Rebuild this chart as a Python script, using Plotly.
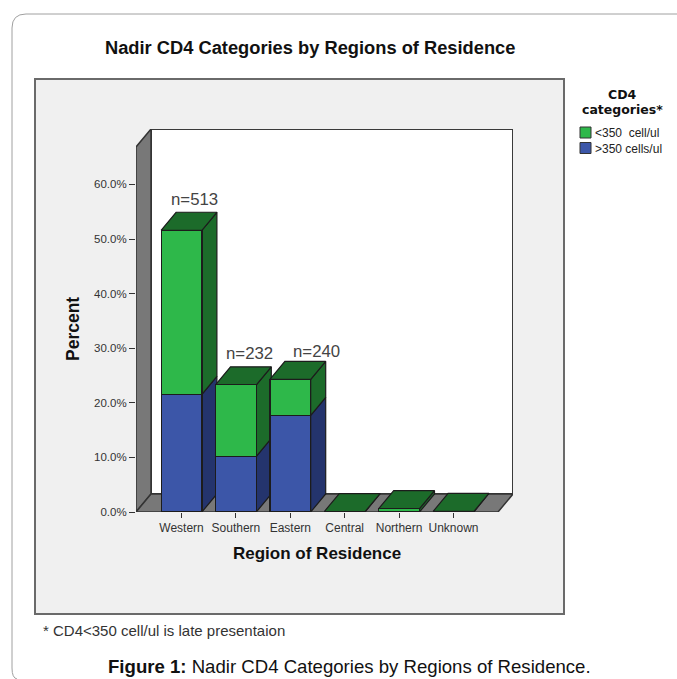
import plotly.graph_objects as go

# ---- data ----
regions = ["Western", "Southern", "Eastern", "Central", "Northern", "Unknown"]
over_350 = [21.55, 10.2, 17.7, 0.0, 0.0, 0.0]
under_350 = [30.05, 13.1, 6.6, 0.08, 0.6, 0.1]
series_names = ["&lt;350 \u00a0cell/ul", "&gt;350 cells/ul"]
y_ticks = [0, 10, 20, 30, 40, 50, 60]
n_labels = ["n=513", "n=232", "n=240"]
n_shift_x = [12.5, 13.5, 26]
n_shift_y = [31, 31, 28]

W, H = 677, 679
DEPTH_X, DEPTH_Y = 15, 18                 # pixels of the pseudo-3D depth
X0, X1, Y0, Y1 = 136, 498, 512, 147       # front plane, pixels
CAT_PX, TEN_PX = 54.4, 54.6
x_min = (X0 - 181.5) / CAT_PX
x_max = (X1 - 181.5) / CAT_PX
y_max = (Y0 - Y1) / (TEN_PX / 10)
dx = DEPTH_X / CAT_PX
dy = DEPTH_Y / (TEN_PX / 10)
half = 0.375

GREEN, GREEN_D = "#2eb84a", "#1c6b2a"
BLUE, BLUE_D = "#3c56a8", "#24346d"
WALL, EDGE = "#787878", "#1c1c1c"


def px(x):
    return x / W


def py(y):
    return 1 - y / H


fig = go.Figure()


def poly(xs, ys, fill, edge=EDGE, width=1.2):
    fig.add_trace(go.Scatter(
        x=xs + xs[:1], y=ys + ys[:1], mode="lines", fill="toself", fillcolor=fill,
        line=dict(color=edge, width=width), cliponaxis=False,
        hoverinfo="skip", showlegend=False))


# walls and floor
poly([x_min + dx, x_max + dx, x_max + dx, x_min + dx], [dy, dy, y_max + dy, y_max + dy], "white", "#3a3a3a", 2)
poly([x_min, x_min + dx, x_min + dx, x_min], [0, dy, y_max + dy, y_max], WALL, "#333333", 1.5)
poly([x_min, x_max, x_max + dx, x_min + dx], [0, 0, dy, dy], WALL, "#333333", 1.5)

# side and top faces
for i in range(len(regions)):
    r = i + half
    lo, tot = over_350[i], over_350[i] + under_350[i]
    if lo > 0:
        poly([r, r + dx, r + dx, r], [0, dy, lo + dy, lo], BLUE_D)
    poly([r, r + dx, r + dx, r], [lo, lo + dy, tot + dy, tot], GREEN_D)
    poly([i - half, r, r + dx, i - half + dx], [tot, tot, tot + dy, tot + dy], GREEN_D)

# front faces on an overlaid subplot so that they cover the neighbouring side faces
positions = list(range(len(regions)))
for vals, color, name in [(over_350, BLUE, series_names[1]), (under_350, GREEN, series_names[0])]:
    fig.add_trace(go.Bar(
        x=positions, y=vals, width=0.75, name=name, xaxis="x2", yaxis="y2",
        marker=dict(color=color, line=dict(color=EDGE, width=1.2)), showlegend=False))

shapes = []
# card outline
card = (f"M {px(17)},{py(679)} Q {px(12)},{py(678)} {px(12)},{py(668)} "
        f"L {px(12)},{py(28)} Q {px(12)},{py(14)} {px(26)},{py(14)} L {px(677)},{py(14)}")
shapes.append(dict(type="path", path=card, xref="paper", yref="paper",
                   line=dict(color="#a0a0a0", width=1), layer="below"))
# chart panel
shapes.append(dict(type="rect", xref="paper", yref="paper", x0=px(35), x1=px(564), y0=py(614), y1=py(79),
                   fillcolor="#f0f0f0", line=dict(color="#6a6a6a", width=2), layer="below"))
# legend keys
for top, color in [(127, GREEN), (142.5, BLUE)]:
    shapes.append(dict(type="rect", xref="paper", yref="paper", x0=px(580), x1=px(591),
                       y0=py(top + 11), y1=py(top), fillcolor=color,
                       line=dict(color="#333333", width=1)))

ann = []


def text(x, y, s, size, anchor="center", color="#222222", family="Liberation Sans", angle=0):
    ann.append(dict(xref="paper", yref="paper", x=px(x), y=py(y), text=s, showarrow=False,
                    xanchor=anchor, yanchor="middle", align=anchor, textangle=angle,
                    font=dict(size=size, color=color, family=family)))


text(309.5, 48, "<b>Nadir CD4 Categories by Regions of Residence</b>", 18.3, color="#111111")
text(622, 95, "<b>CD4</b>", 12.5, color="#111111", family="DejaVu Sans")
text(622, 110, "<b>categories*</b>", 12.5, color="#111111", family="DejaVu Sans")
text(593, 133, series_names[0], 12, "left")
text(593, 148.5, series_names[1], 12, "left")
text(41, 630.5, "* CD4&lt;350 cell/ul is late presentaion", 15, "left", "#333333")
text(349.5, 666, "<b>Figure 1:</b> Nadir CD4 Categories by Regions of Residence.", 18.6, color="#111111")
text(317, 553, "<b>Region of Residence</b>", 17, color="#111111")
text(73, 329, "<b>Percent</b>", 17.5, color="#111111", angle=-90)

for i, label in enumerate(n_labels):
    ann.append(dict(xref="x", yref="y", x=positions[i], y=over_350[i] + under_350[i],
                    xshift=n_shift_x[i], yshift=n_shift_y[i], text=label, showarrow=False,
                    xanchor="center", yanchor="middle",
                    font=dict(size=16.8, color="#444444", family="Liberation Sans")))

fig.update_layout(
    width=W, height=H, autosize=False,
    margin=dict(l=0, r=0, t=0, b=0, autoexpand=False),
    paper_bgcolor="white", plot_bgcolor="rgba(0,0,0,0)",
    barmode="stack", showlegend=False, hovermode=False,
    shapes=shapes, annotations=ann,
    xaxis=dict(domain=[px(X0), px(X1 + DEPTH_X)], range=[x_min, x_max + dx], anchor="y",
               tickmode="array", tickvals=positions, ticktext=regions,
               ticks="outside", ticklen=5, tickwidth=1, tickcolor="#333333",
               tickfont=dict(size=12, color="#333333", family="Liberation Sans"),
               showgrid=False, zeroline=False, showline=False),
    yaxis=dict(domain=[py(Y0), py(Y1 - DEPTH_Y)], range=[0, y_max + dy], anchor="x",
               tickmode="array", tickvals=y_ticks, ticktext=[f"{v:.1f}%" for v in y_ticks],
               ticks="outside", ticklen=6, tickwidth=1, tickcolor="#333333",
               tickfont=dict(size=11.5, color="#333333", family="Liberation Sans"),
               showgrid=False, zeroline=False, showline=False),
    xaxis2=dict(overlaying="x", matches="x", visible=False, anchor="y2"),
    yaxis2=dict(overlaying="y", matches="y", visible=False, anchor="x2"),
)

fig.write_html("out.html", config=dict(displayModeBar=False),
               post_script="document.body.style.margin='0';document.documentElement.style.overflow='hidden';")
